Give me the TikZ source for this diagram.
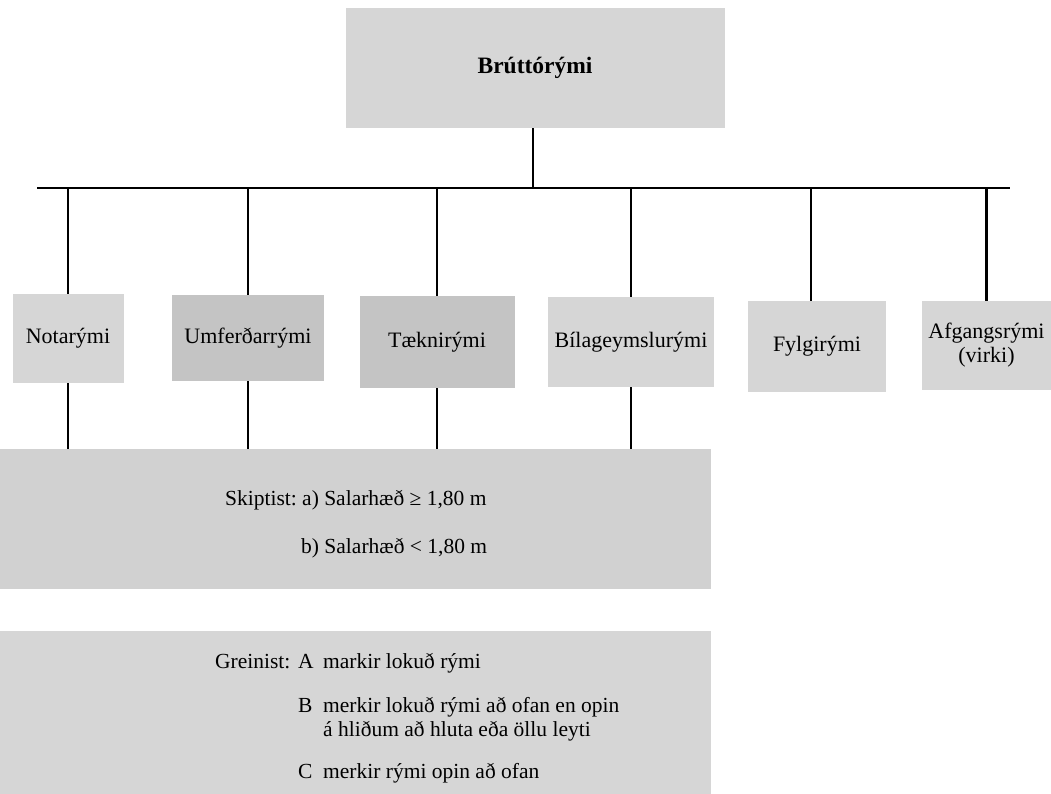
\documentclass[tikz,border=0pt]{standalone}
\usepackage{fontspec}
\setmainfont{Liberation Serif}
\definecolor{boxA}{gray}{0.84}
\definecolor{boxB}{gray}{0.77}
\definecolor{boxC}{gray}{0.82}
\begin{document}
\begin{tikzpicture}[x=1pt,y=-1pt,
  box/.style={fill=#1, inner sep=0pt, align=center, font=\fontsize{22}{24}\selectfont},
  box/.default=boxA,
  conn/.style={line width=2.8pt, black},
  txt/.style={anchor=base west, inner sep=0pt, font=\fontsize{21.5}{25}\selectfont}]
\useasboundingbox (0,0) rectangle (1051,794);

% top
\node[box=boxA, minimum width=379pt, minimum height=120pt, font=\fontsize{23.5}{26}\bfseries] (top) at (535,68) {Brúttórými};

% bus
\coordinate (busL) at (37,188);
\coordinate (busR) at (1010,188);
\draw[conn] (busL) -- (busR);
\draw[conn] ([xshift=-2pt]top.south) -- ([xshift=-2pt]top.south |- busL);

% children
\node[box=boxA, minimum width=111pt, minimum height=89pt] (n1) at (68,338.5) {Notarými};
\node[box=boxB, minimum width=152pt, minimum height=86pt] (n2) at (248,338) {Umferðarrými};
\node[box=boxB, minimum width=155pt, minimum height=92pt] (n3) at (437,342) {Tæknirými};
\node[box=boxA, minimum width=166pt, minimum height=90pt] (n4) at (631,342) {Bílageymslurými};
\node[box=boxA, minimum width=138pt, minimum height=91pt] (n5) at (817,346.5) {Fylgirými};
\node[box=boxA, minimum width=129pt, minimum height=89pt] (n6) at (986.5,345.5) {Afgangsrými\\(virki)};

% lower boxes
\node[box=boxC, minimum width=711pt, minimum height=140pt] (skip) at (355.5,519) {};
\node[box=boxA, minimum width=711pt, minimum height=163pt] (grein) at (355.5,712.5) {};

% connectors
\foreach \n in {n1,n2,n3,n4,n6}{
  \draw[conn] (\n.north) -- (\n.north |- busL);
}
\draw[conn] ([xshift=-6pt]n5.north) -- ([xshift=-6pt]n5.north |- busL);
\foreach \n in {n1,n2,n3,n4}{
  \draw[conn] (\n.south) -- (\n.south |- skip.north);
}

% Skiptist texts
\node[txt] (s1) at (225,505) {Skiptist:};
\node[txt] (s2) at (302,505) {a) Salarhæð ≥ 1,80 m};
\node[txt] (s3) at (301,553) {b) Salarhæð < 1,80 m};

% Greinist texts
\node[txt] (g1) at (215,668) {Greinist:};
\node[txt] (gA) at (298,668) {A};
\node[txt] (g2) at (323,668) {markir lokuð rými};
\node[txt] (gB) at (298,712) {B};
\node[txt] (g3) at (323,712) {merkir lokuð rými að ofan en opin};
\node[txt] (g4) at (323,736) {á hliðum að hluta eða öllu leyti};
\node[txt] (gC) at (298,778) {C};
\node[txt] (g5) at (323,778) {merkir rými opin að ofan};
\end{tikzpicture}
\end{document}
